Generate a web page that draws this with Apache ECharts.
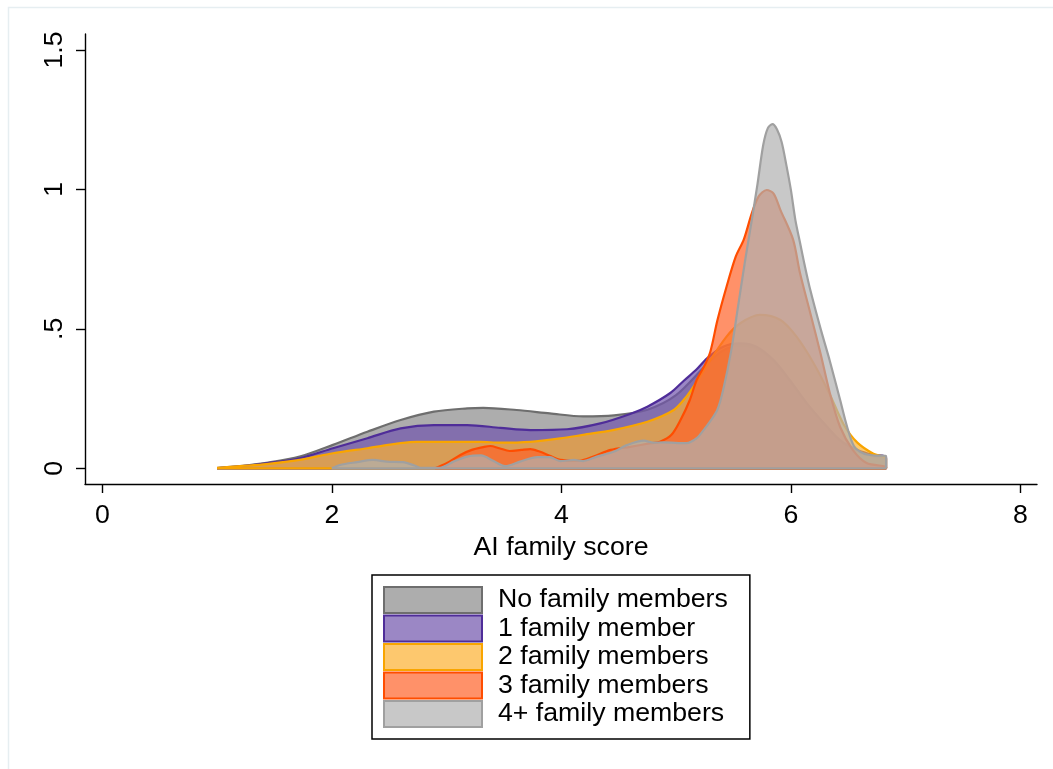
<!DOCTYPE html>
<html>
<head>
<meta charset="utf-8">
<script src="https://cdn.jsdelivr.net/npm/echarts@6/dist/echarts.min.js"></script>
<style>
  html, body { margin: 0; padding: 0; background: #fff; }
  #chart { width: 1053px; height: 769px; }
</style>
</head>
<body>
<div id="chart"></div>
<script>
// Kernel density estimates of the AI family score, one curve per group.
const seriesNames = ['No family members', '1 family member', '2 family members', '3 family members', '4+ family members'];

const noFamily = [
  [1.0, 0.001], [1.2, 0.008], [1.43, 0.02], [1.72, 0.042], [2.01, 0.084], [2.31, 0.131],
  [2.6, 0.173], [2.89, 0.203], [3.18, 0.215], [3.32, 0.217], [3.61, 0.209], [3.9, 0.197],
  [4.19, 0.186], [4.46, 0.19], [4.75, 0.21], [5.0, 0.262], [5.24, 0.36], [5.4, 0.42],
  [5.56, 0.44], [5.7, 0.43], [5.85, 0.385], [5.99, 0.315], [6.14, 0.232], [6.29, 0.16],
  [6.43, 0.1], [6.58, 0.062], [6.72, 0.042], [6.83, 0.035]
];

const oneFamily = [
  [1.0, 0.001], [1.2, 0.007], [1.43, 0.018], [1.72, 0.036], [2.01, 0.072], [2.31, 0.108],
  [2.6, 0.143], [2.89, 0.155], [3.18, 0.155], [3.47, 0.145], [3.73, 0.137], [4.05, 0.14],
  [4.34, 0.161], [4.6, 0.195], [4.75, 0.221], [4.95, 0.27], [5.07, 0.315], [5.18, 0.355],
  [5.27, 0.394], [5.41, 0.436], [5.56, 0.448], [5.7, 0.436], [5.85, 0.388], [5.99, 0.317],
  [6.14, 0.233], [6.29, 0.161], [6.43, 0.1], [6.58, 0.066], [6.72, 0.048], [6.83, 0.04]
];

const twoFamily = [
  [1.0, 0.002], [1.2, 0.008], [1.43, 0.015], [1.72, 0.03], [2.01, 0.054], [2.31, 0.072],
  [2.6, 0.09], [2.74, 0.095], [3.03, 0.095], [3.29, 0.095], [3.47, 0.092], [3.73, 0.095],
  [3.99, 0.107], [4.19, 0.12], [4.45, 0.137], [4.75, 0.167], [4.98, 0.209], [5.09, 0.257],
  [5.18, 0.31], [5.27, 0.37], [5.44, 0.472], [5.56, 0.52], [5.73, 0.55], [5.91, 0.532],
  [6.05, 0.472], [6.2, 0.376], [6.34, 0.265], [6.46, 0.158], [6.58, 0.092], [6.72, 0.052],
  [6.83, 0.035]
];

const threeFamily = [
  [2.9, 0.0], [3.0, 0.018], [3.12, 0.048], [3.22, 0.066], [3.32, 0.076], [3.38, 0.08],
  [3.46, 0.072], [3.55, 0.062], [3.65, 0.066], [3.73, 0.069], [3.81, 0.06], [3.9, 0.045],
  [3.99, 0.03], [4.16, 0.027], [4.28, 0.042], [4.43, 0.066], [4.6, 0.077], [4.78, 0.09],
  [4.86, 0.095], [4.96, 0.12], [5.04, 0.174], [5.12, 0.245], [5.18, 0.317], [5.25, 0.37],
  [5.3, 0.42], [5.36, 0.53], [5.44, 0.651], [5.52, 0.759], [5.59, 0.82], [5.66, 0.914],
  [5.72, 0.975], [5.79, 0.998], [5.85, 0.985], [5.91, 0.926], [6.02, 0.82], [6.08, 0.7],
  [6.17, 0.556], [6.26, 0.41], [6.34, 0.27], [6.43, 0.148], [6.54, 0.066], [6.66, 0.019],
  [6.83, 0.005]
];

const fourPlusFamily = [
  [2.0, 0.0], [2.07, 0.012], [2.22, 0.022], [2.36, 0.03], [2.48, 0.024], [2.62, 0.022],
  [2.72, 0.01], [2.77, 0.002], [2.94, 0.002], [3.06, 0.024], [3.18, 0.042], [3.3, 0.046],
  [3.41, 0.026], [3.51, 0.008], [3.64, 0.024], [3.79, 0.04], [3.9, 0.04], [3.99, 0.026],
  [4.11, 0.03], [4.19, 0.026], [4.31, 0.042], [4.46, 0.06], [4.57, 0.083], [4.72, 0.099],
  [4.8, 0.092], [4.89, 0.093], [5.09, 0.09], [5.18, 0.108], [5.24, 0.137], [5.3, 0.17],
  [5.36, 0.21], [5.41, 0.28], [5.48, 0.42], [5.54, 0.58], [5.6, 0.74], [5.66, 0.89],
  [5.71, 1.02], [5.76, 1.16], [5.8, 1.22], [5.84, 1.234], [5.88, 1.215], [5.92, 1.17],
  [5.96, 1.09], [6.0, 1.0], [6.04, 0.89], [6.08, 0.81], [6.12, 0.73], [6.17, 0.639],
  [6.26, 0.5], [6.34, 0.385], [6.43, 0.245], [6.49, 0.15], [6.55, 0.08], [6.63, 0.054],
  [6.72, 0.046], [6.83, 0.044]
];

const xTicks = [0, 2, 4, 6, 8];
const yTicks = [0, 0.5, 1, 1.5];
const yTickLabels = ['0', '.5', '1', '1.5'];

// Fill (translucent) and outline colours for each group.
const fillColors = [
  'rgba(138,138,138,0.7)',
  'rgba(112,84,172,0.7)',
  'rgba(252,176,49,0.7)',
  'rgba(255,99,41,0.7)',
  'rgba(176,176,176,0.7)'
];
const lineColors = ['#6e6e6e', '#4f2d99', '#f9a500', '#ff4d00', '#a0a0a0'];

const curves = [noFamily, oneFamily, twoFamily, threeFamily, fourPlusFamily];

// Close each outline down to the baseline and back along it, so the
// area border runs round the whole shape.
function closedOutline(points) {
  const first = points[0];
  const last = points[points.length - 1];
  return points.concat([[last[0], 0], [first[0], 0]]);
}

const FONT = '"Liberation Sans", Arial, Helvetica, sans-serif';
const FS = 26.7;

const chart = echarts.init(document.getElementById('chart'), null, { renderer: 'canvas' });

chart.setOption({
  backgroundColor: '#ffffff',
  animation: false,
  graphic: [{
    type: 'rect',
    silent: true,
    z: -10,
    shape: { x: 8.5, y: 7.5, width: 1100, height: 800 },
    style: { fill: 'none', stroke: '#e6eef1', lineWidth: 1.5 }
  }],
  grid: { left: 85, right: 16, top: 34, bottom: 285, containLabel: false },
  xAxis: {
    type: 'value',
    min: -0.1508,
    max: 8.1455,
    name: 'AI family score',
    nameLocation: 'middle',
    nameGap: 49,
    nameTextStyle: { fontFamily: FONT, fontSize: FS, color: '#000' },
    axisLine: { show: true, onZero: false, lineStyle: { color: '#000', width: 1.4 } },
    axisTick: { show: true, customValues: xTicks, length: 9, lineStyle: { color: '#000', width: 1.4 } },
    axisLabel: {
      customValues: xTicks,
      margin: 18,
      fontFamily: FONT, fontSize: FS, color: '#000',
      formatter: v => String(v)
    },
    splitLine: { show: false }
  },
  yAxis: {
    type: 'value',
    min: -0.0563,
    max: 1.5574,
    axisLine: { show: true, onZero: false, lineStyle: { color: '#000', width: 1.4 } },
    axisTick: { show: true, customValues: yTicks, length: 9, lineStyle: { color: '#000', width: 1.4 } },
    axisLabel: {
      customValues: yTicks,
      rotate: 90,
      margin: 17,
      fontFamily: FONT, fontSize: FS, color: '#000',
      formatter: v => yTickLabels[yTicks.indexOf(v)] ?? ''
    },
    splitLine: { show: false }
  },
  legend: {
    show: true,
    orient: 'vertical',
    left: 372,
    top: 575,
    padding: [11, 22, 11, 11],
    borderColor: '#000',
    borderWidth: 1.5,
    itemWidth: 98,
    itemHeight: 26,
    itemGap: 0.5,
    icon: 'rect',
    selectedMode: false,
    textStyle: { fontFamily: FONT, fontSize: FS, color: '#000', lineHeight: 24, padding: [3, 0, 0, 11] },
    data: seriesNames.map((name, i) => ({
      name,
      icon: 'rect',
      itemStyle: { color: fillColors[i], borderColor: lineColors[i], borderWidth: 2 }
    }))
  },
  series: curves.map((pts, i) => ({
    name: seriesNames[i],
    type: 'line',
    data: closedOutline(pts),
    smooth: 0.3,
    showSymbol: false,
    symbol: 'none',
    clip: false,
    lineStyle: { color: lineColors[i], width: 2.2 },
    itemStyle: { color: fillColors[i], borderColor: lineColors[i] },
    areaStyle: { color: fillColors[i], opacity: 1, origin: 0 },
    emphasis: { disabled: true },
    z: 2 + i
  }))
});
</script>
</body>
</html>
